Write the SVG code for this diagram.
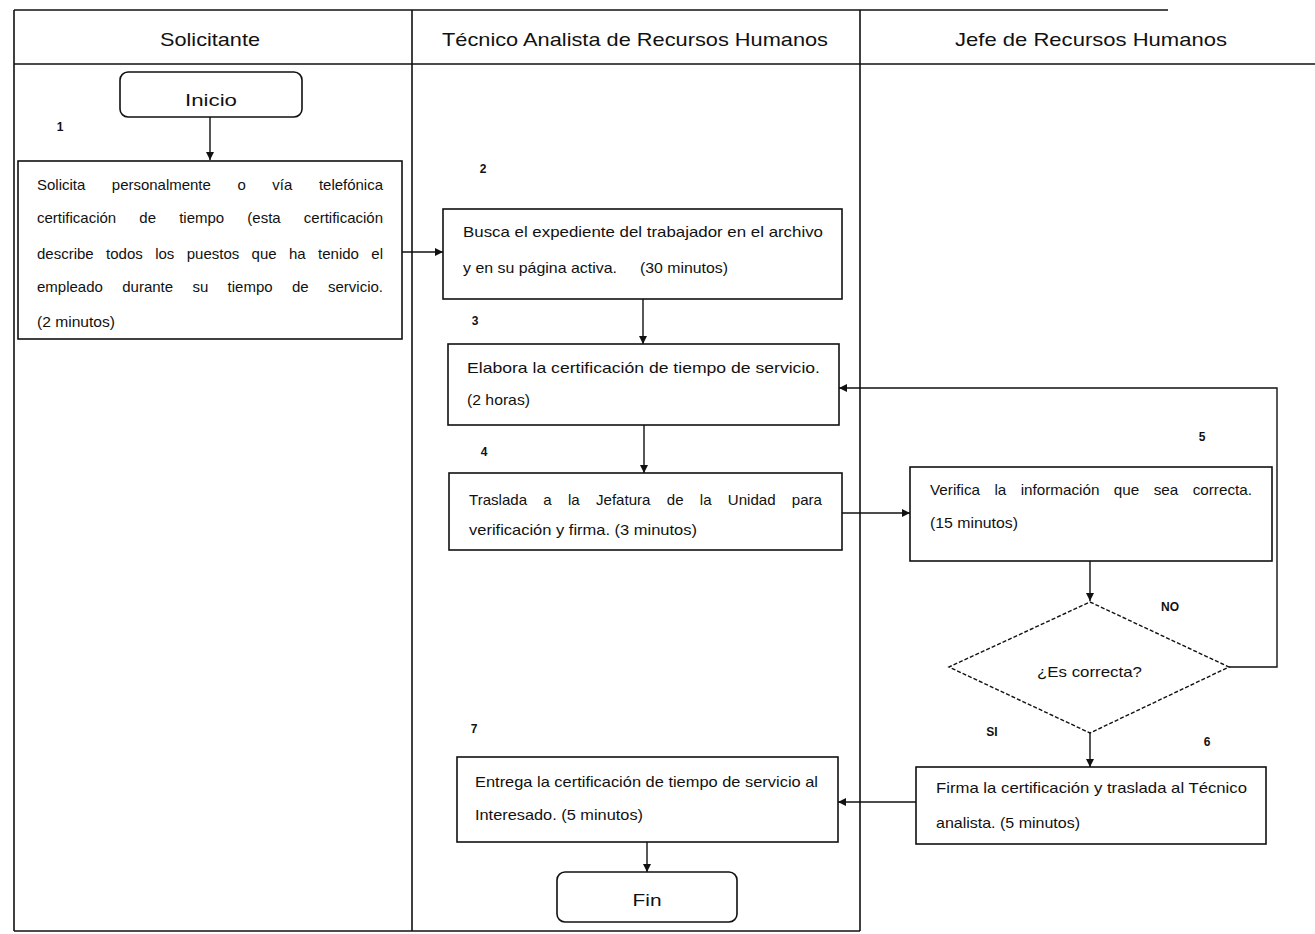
<svg xmlns="http://www.w3.org/2000/svg" width="1315" height="934" viewBox="0 0 1315 934">
  <style>
    .lane { stroke: #111; stroke-width: 1.6; fill: none; }
    .box { stroke: #111; stroke-width: 1.6; fill: #fff; }
    .dec { stroke: #111; stroke-width: 1.4; fill: #fff; stroke-dasharray: 4 2; }
    .conn { stroke: #111; stroke-width: 1.4; fill: none; }
    .hdr { font-family: "Liberation Sans", Arial, sans-serif; font-size: 19px; fill: #111; text-anchor: middle; }
    .txt { font-family: "Liberation Sans", Arial, sans-serif; font-size: 15px; fill: #111; }
    .ctr { font-family: "Liberation Sans", Arial, sans-serif; font-size: 17px; fill: #111; text-anchor: middle; }
    .num { font-family: "Liberation Sans", Arial, sans-serif; font-size: 12px; font-weight: bold; fill: #111; text-anchor: middle; }
  </style>
  <defs>
    <marker id="arrow" viewBox="0 0 10 10" refX="10" refY="5" markerWidth="8" markerHeight="8" orient="auto" markerUnits="userSpaceOnUse">
      <path d="M0,0 L10,5 L0,10 z" fill="#111"/>
    </marker>
  </defs>

  <rect x="0" y="0" width="1315" height="934" fill="#fff"/>

  <!-- swimlane frame -->
  <g id="lanes">
    <line class="lane" x1="14" y1="10" x2="1168" y2="10"/>
    <line class="lane" x1="14" y1="64" x2="1315" y2="64"/>
    <line class="lane" x1="14" y1="10" x2="14" y2="931"/>
    <line class="lane" x1="412" y1="10" x2="412" y2="931"/>
    <line class="lane" x1="860" y1="10" x2="860" y2="931"/>
    <line class="lane" x1="14" y1="931" x2="860" y2="931"/>
    <text class="hdr" x="210" y="46" textLength="100" lengthAdjust="spacingAndGlyphs">Solicitante</text>
    <text class="hdr" x="635" y="46" textLength="386" lengthAdjust="spacingAndGlyphs">Técnico Analista de Recursos Humanos</text>
    <text class="hdr" x="1091" y="46" textLength="272" lengthAdjust="spacingAndGlyphs">Jefe de Recursos Humanos</text>
  </g>

  <!-- connectors -->
  <g id="connectors">
    <line class="conn" x1="210" y1="117" x2="210" y2="160" marker-end="url(#arrow)"/>
    <line class="conn" x1="402" y1="252" x2="443" y2="252" marker-end="url(#arrow)"/>
    <line class="conn" x1="643" y1="299" x2="643" y2="344" marker-end="url(#arrow)"/>
    <line class="conn" x1="644" y1="425" x2="644" y2="473" marker-end="url(#arrow)"/>
    <line class="conn" x1="842" y1="513" x2="910" y2="513" marker-end="url(#arrow)"/>
    <line class="conn" x1="1090" y1="561" x2="1090" y2="601" marker-end="url(#arrow)"/>
    <polyline class="conn" points="1229,667 1277,667 1277,388 839,388" marker-end="url(#arrow)"/>
    <line class="conn" x1="1090" y1="733" x2="1090" y2="767" marker-end="url(#arrow)"/>
    <line class="conn" x1="916" y1="802" x2="838" y2="802" marker-end="url(#arrow)"/>
    <line class="conn" x1="647" y1="842" x2="647" y2="872" marker-end="url(#arrow)"/>
    <text class="num" x="1170" y="611">NO</text>
    <text class="num" x="992" y="736">SI</text>
  </g>

  <g id="inicio">
    <rect class="box" x="120" y="72" width="182" height="45" rx="8"/>
    <text class="ctr" x="211" y="106" textLength="52" lengthAdjust="spacingAndGlyphs">Inicio</text>
  </g>

  <g id="paso1">
    <text class="num" x="60" y="131">1</text>
    <rect class="box" x="18" y="161" width="384" height="178"/>
    <text class="txt" x="37" y="190" word-spacing="22.5" textLength="346" lengthAdjust="spacingAndGlyphs">Solicita personalmente o vía telefónica</text>
    <text class="txt" x="37" y="223" word-spacing="19" textLength="346" lengthAdjust="spacingAndGlyphs">certificación de tiempo (esta certificación</text>
    <text class="txt" x="37" y="259" word-spacing="8.2" textLength="346" lengthAdjust="spacingAndGlyphs">describe todos los puestos que ha tenido el</text>
    <text class="txt" x="37" y="292" word-spacing="15.2" textLength="346" lengthAdjust="spacingAndGlyphs">empleado durante su tiempo de servicio.</text>
    <text class="txt" x="37" y="327" textLength="78" lengthAdjust="spacingAndGlyphs">(2 minutos)</text>
  </g>

  <g id="paso2">
    <text class="num" x="483" y="173">2</text>
    <rect class="box" x="443" y="209" width="399" height="90"/>
    <text class="txt" x="463" y="237" textLength="360" lengthAdjust="spacingAndGlyphs">Busca el expediente del trabajador en el archivo</text>
    <text class="txt" x="463" y="273" textLength="154" lengthAdjust="spacingAndGlyphs">y en su página activa.</text>
    <text class="txt" x="640" y="273" textLength="88" lengthAdjust="spacingAndGlyphs">(30 minutos)</text>
  </g>

  <g id="paso3">
    <text class="num" x="475" y="325">3</text>
    <rect class="box" x="448" y="344" width="391" height="81"/>
    <text class="txt" x="467" y="373" textLength="353" lengthAdjust="spacingAndGlyphs">Elabora la certificación de tiempo de servicio.</text>
    <text class="txt" x="467" y="405" textLength="63" lengthAdjust="spacingAndGlyphs">(2 horas)</text>
  </g>

  <g id="paso4">
    <text class="num" x="484" y="456">4</text>
    <rect class="box" x="449" y="473" width="393" height="77"/>
    <text class="txt" x="469" y="505" word-spacing="12" textLength="353" lengthAdjust="spacingAndGlyphs">Traslada a la Jefatura de la Unidad para</text>
    <text class="txt" x="469" y="535" textLength="228" lengthAdjust="spacingAndGlyphs">verificación y firma. (3 minutos)</text>
  </g>

  <g id="paso5">
    <text class="num" x="1202" y="441">5</text>
    <rect class="box" x="910" y="467" width="362" height="94"/>
    <text class="txt" x="930" y="495" word-spacing="10" textLength="322" lengthAdjust="spacingAndGlyphs">Verifica la información que sea correcta.</text>
    <text class="txt" x="930" y="528" textLength="88" lengthAdjust="spacingAndGlyphs">(15 minutos)</text>
  </g>

  <g id="decision">
    <polygon class="dec" points="1090,602 1229,667 1090,733 949,667"/>
    <text class="txt" x="1037" y="677" textLength="105" lengthAdjust="spacingAndGlyphs">¿Es correcta?</text>
  </g>

  <g id="paso6">
    <text class="num" x="1207" y="746">6</text>
    <rect class="box" x="916" y="767" width="350" height="77"/>
    <text class="txt" x="936" y="793" textLength="311" lengthAdjust="spacingAndGlyphs">Firma la certificación y traslada al Técnico</text>
    <text class="txt" x="936" y="828" textLength="144" lengthAdjust="spacingAndGlyphs">analista. (5 minutos)</text>
  </g>

  <g id="paso7">
    <text class="num" x="474" y="733">7</text>
    <rect class="box" x="457" y="757" width="381" height="85"/>
    <text class="txt" x="475" y="787" textLength="343" lengthAdjust="spacingAndGlyphs">Entrega la certificación de tiempo de servicio al</text>
    <text class="txt" x="475" y="820" textLength="168" lengthAdjust="spacingAndGlyphs">Interesado. (5 minutos)</text>
  </g>

  <g id="fin">
    <rect class="box" x="557" y="872" width="180" height="50" rx="8"/>
    <text class="ctr" x="647" y="906" textLength="29" lengthAdjust="spacingAndGlyphs">Fin</text>
  </g>
</svg>
